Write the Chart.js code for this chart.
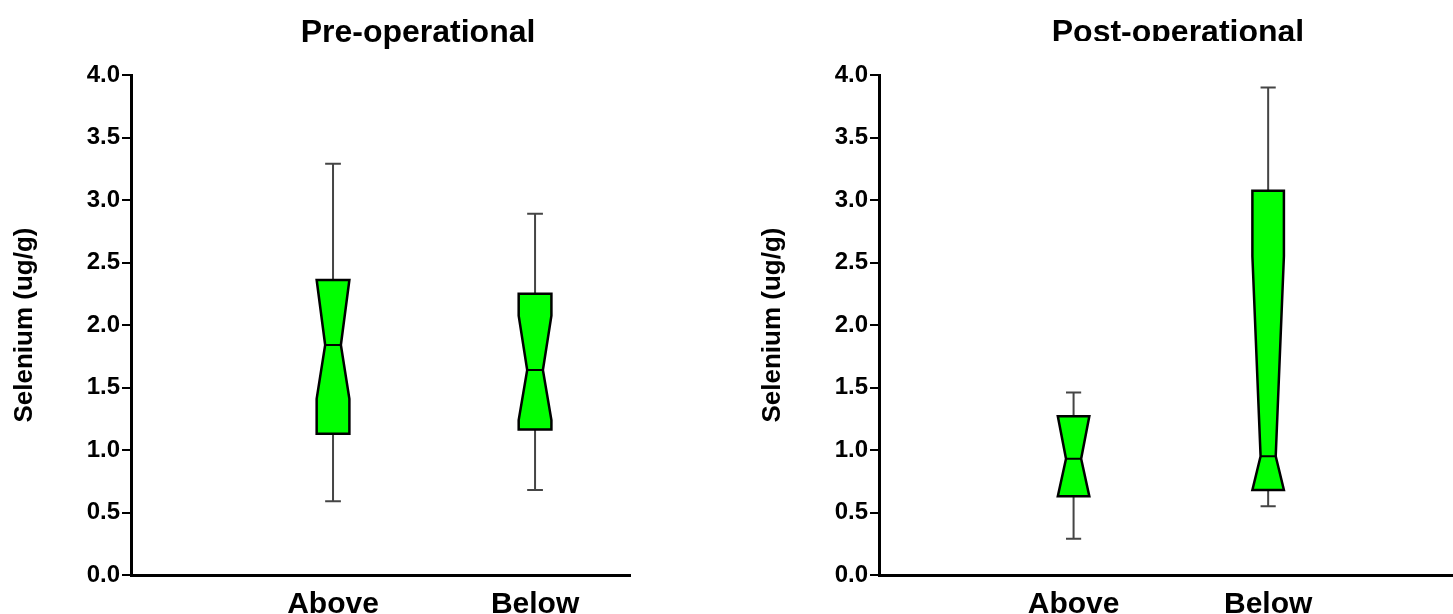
<!DOCTYPE html>
<html>
<head>
<meta charset="utf-8">
<script src="https://cdn.jsdelivr.net/npm/chart.js@4.4.1/dist/chart.umd.min.js"></script>
<style>
  html, body { margin: 0; padding: 0; background: #fff; overflow: hidden; }
  #pre { position: absolute; left: 0; top: 0; }
  #post { position: absolute; left: 748px; top: 0; }
</style>
</head>
<body>
<canvas id="pre" width="640" height="614"></canvas>
<canvas id="post" width="705" height="614"></canvas>
<script>
const categories = ['Above', 'Below'];
const yTickValues = [0, 0.5, 1, 1.5, 2, 2.5, 3, 3.5, 4];

// pre-operational
const preMin = [0.59, 0.68];
const preQ1 = [1.13, 1.165];
const preNotchLow = [1.41, 1.24];
const preMedian = [1.84, 1.64];
const preNotchHigh = [2.36, 2.075];
const preQ3 = [2.36, 2.25];
const preMax = [3.29, 2.89];

// post-operational
const postMin = [0.29, 0.55];
const postQ1 = [0.63, 0.68];
const postNotchLow = [0.63, 0.68];
const postMedian = [0.93, 0.95];
const postNotchHigh = [1.27, 2.55];
const postQ3 = [1.27, 3.075];
const postMax = [1.46, 3.9];

const FONT = "'Liberation Sans', Arial, Helvetica, sans-serif";
Chart.defaults.font.family = FONT;
Chart.defaults.color = '#000';

function boxPlugin(stats) {
  return {
    id: 'notchedBoxes',
    afterDatasetsDraw(chart) {
      const { ctx, scales: { x, y } } = chart;
      const py = v => y.getPixelForValue(v);
      ctx.save();
      stats.median.forEach((m, i) => {
        const pos = i + 1;
        const cx = x.getPixelForValue(pos);
        const hw = x.getPixelForValue(pos + 0.081) - cx;
        const nw = hw * 0.48;
        const cap = x.getPixelForValue(pos + 0.039) - cx;

        // whiskers
        ctx.strokeStyle = '#454545';
        ctx.lineWidth = 2;
        ctx.beginPath();
        ctx.moveTo(cx, py(stats.q3[i]));
        ctx.lineTo(cx, py(stats.max[i]));
        ctx.moveTo(cx - cap, py(stats.max[i]));
        ctx.lineTo(cx + cap, py(stats.max[i]));
        ctx.moveTo(cx, py(stats.q1[i]));
        ctx.lineTo(cx, py(stats.min[i]));
        ctx.moveTo(cx - cap, py(stats.min[i]));
        ctx.lineTo(cx + cap, py(stats.min[i]));
        ctx.stroke();

        // notched box
        ctx.beginPath();
        ctx.moveTo(cx - hw, py(stats.q3[i]));
        ctx.lineTo(cx - hw, py(stats.notchHigh[i]));
        ctx.lineTo(cx - nw, py(m));
        ctx.lineTo(cx - hw, py(stats.notchLow[i]));
        ctx.lineTo(cx - hw, py(stats.q1[i]));
        ctx.lineTo(cx + hw, py(stats.q1[i]));
        ctx.lineTo(cx + hw, py(stats.notchLow[i]));
        ctx.lineTo(cx + nw, py(m));
        ctx.lineTo(cx + hw, py(stats.notchHigh[i]));
        ctx.lineTo(cx + hw, py(stats.q3[i]));
        ctx.closePath();
        ctx.fillStyle = '#00ff00';
        ctx.fill();
        ctx.strokeStyle = '#000';
        ctx.lineWidth = 2.5;
        ctx.lineJoin = 'miter';
        ctx.stroke();

        // median
        ctx.lineWidth = 2;
        ctx.beginPath();
        ctx.moveTo(cx - nw, py(m));
        ctx.lineTo(cx + nw, py(m));
        ctx.stroke();
      });
      ctx.restore();
    }
  };
}

function titlePlugin(text, cx, baseline, clipY) {
  return {
    id: 'panelTitle',
    afterDraw(chart) {
      const ctx = chart.ctx;
      ctx.save();
      if (clipY) {
        ctx.beginPath();
        ctx.rect(0, 0, chart.width, clipY);
        ctx.clip();
      }
      ctx.font = 'bold 32px ' + FONT;
      ctx.fillStyle = '#000';
      ctx.textAlign = 'center';
      ctx.textBaseline = 'alphabetic';
      ctx.fillText(text, cx, baseline);
      ctx.restore();
    }
  };
}

function makeChart(id, title, titleX, clipY, xMax, padRight, stats) {
  return new Chart(document.getElementById(id), {
    type: 'scatter',
    data: {
      datasets: [{
        data: stats.median.map((m, i) => ({ x: i + 1, y: m })),
        pointRadius: 0,
        showLine: false
      }]
    },
    options: {
      responsive: false,
      animation: false,
      devicePixelRatio: 1,
      layout: { padding: { top: 75, right: padRight, bottom: 0, left: 0 } },
      plugins: { legend: { display: false }, tooltip: { enabled: false } },
      scales: {
        x: {
          type: 'linear',
          min: 0,
          max: xMax,
          afterBuildTicks: s => { s.ticks = categories.map((c, i) => ({ value: i + 1 })); },
          afterFit: s => { s.height = 39; },
          grid: { drawOnChartArea: false, drawTicks: false },
          border: { color: '#000', width: 3 },
          ticks: {
            autoSkip: false,
            maxRotation: 0,
            padding: 12,
            font: { size: 30, weight: 'bold' },
            callback: v => categories[v - 1] || ''
          }
        },
        y: {
          min: 0,
          max: 4,
          afterBuildTicks: s => { s.ticks = yTickValues.map(v => ({ value: v })); },
          afterFit: s => { s.width = 131; },
          grid: { drawOnChartArea: false, drawTicks: true, tickLength: 9, color: '#000', lineWidth: 2 },
          border: { color: '#000', width: 3 },
          ticks: {
            padding: 2,
            font: { size: 24, weight: 'bold' },
            callback: v => v.toFixed(1)
          },
          title: {
            display: true,
            text: 'Selenium (ug/g)',
            padding: { top: 9, bottom: 0 },
            font: { size: 26, weight: 'bold' }
          }
        }
      }
    },
    plugins: [boxPlugin(stats), titlePlugin(title, titleX, 42, clipY)]
  });
}

makeChart('pre', 'Pre-operational', 418, 0, 2.47, 10, {
  min: preMin, q1: preQ1, notchLow: preNotchLow, median: preMedian,
  notchHigh: preNotchHigh, q3: preQ3, max: preMax
});

makeChart('post', 'Post-operational', 430, 41, 2.95, 0, {
  min: postMin, q1: postQ1, notchLow: postNotchLow, median: postMedian,
  notchHigh: postNotchHigh, q3: postQ3, max: postMax
});
</script>
</body>
</html>
